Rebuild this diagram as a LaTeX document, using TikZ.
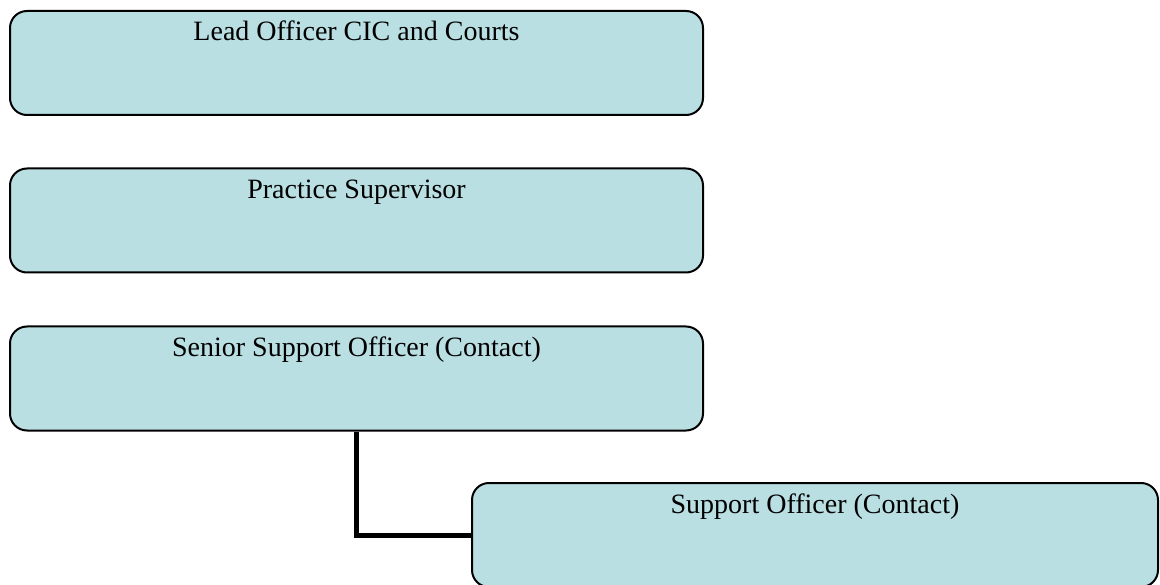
\documentclass[tikz,border=0pt]{standalone}
\usepackage{fontspec}
\setmainfont{Liberation Serif}
\usetikzlibrary{positioning,calc}
\definecolor{PostBlue}{RGB}{185,223,227}
\tikzset{
	post/.style={draw=black,fill=PostBlue,line width=2pt,rounded corners=17pt,
		minimum width=693pt,inner xsep=0pt,inner ysep=12pt,
		text height=18pt,text depth=62pt,font=\fontsize{28}{33}\selectfont},
	link/.style={draw=black,line width=5pt},
}

\begin{document}
\begin{tikzpicture}[x=1pt,y=-1pt]
	\useasboundingbox (0,0) rectangle (1160,585);
	\node[post] (lead) at (356.5,63) {Lead Officer CIC and Courts};
	\node[post] (practice) at (356.5,220.5) {Practice Supervisor};
	\node[post] (senior) at (356.5,378.5) {Senior Support Officer (Contact)};
	\node[post,minimum width=686pt] (support) at (815,535) {Support Officer (Contact)};
	% reporting line
	\draw[link] (senior.south) |- (support.west);
\end{tikzpicture}
\end{document}
